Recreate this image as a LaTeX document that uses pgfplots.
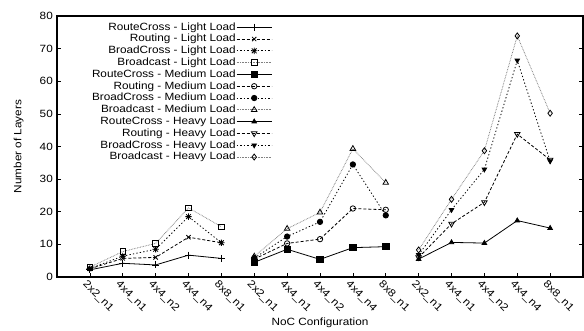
\documentclass[border=0pt]{standalone}
\usepackage{fontspec}
\setmainfont{Liberation Sans}[FakeStretch=1.12]
\usepackage{pgfplots}
\pgfplotsset{compat=1.18}
\pgfdeclareplotmark{gpstar}{%
  \pgfpathmoveto{\pgfqpoint{-\pgfplotmarksize}{0pt}}\pgfpathlineto{\pgfqpoint{\pgfplotmarksize}{0pt}}%
  \pgfpathmoveto{\pgfqpoint{0pt}{-\pgfplotmarksize}}\pgfpathlineto{\pgfqpoint{0pt}{\pgfplotmarksize}}%
  \pgfpathmoveto{\pgfqpoint{-0.75\pgfplotmarksize}{-0.75\pgfplotmarksize}}\pgfpathlineto{\pgfqpoint{0.75\pgfplotmarksize}{0.75\pgfplotmarksize}}%
  \pgfpathmoveto{\pgfqpoint{-0.75\pgfplotmarksize}{0.75\pgfplotmarksize}}\pgfpathlineto{\pgfqpoint{0.75\pgfplotmarksize}{-0.75\pgfplotmarksize}}%
  \pgfusepathqstroke}
\begin{document}
\begin{tikzpicture}[x=1bp,y=1bp]
\useasboundingbox (0,0) rectangle (584,330);
\begin{axis}[
  at={(57bp,53bp)}, anchor=south west,
  scale only axis, width=526bp, height=261bp,
  xmin=-1, xmax=15, ymin=0, ymax=80,
  xtick={0,...,14},
  xticklabels={2x2\_n1,4x4\_n1,4x4\_n2,4x4\_n4,8x8\_n1,2x2\_n1,4x4\_n1,4x4\_n2,4x4\_n4,8x8\_n1,2x2\_n1,4x4\_n1,4x4\_n2,4x4\_n4,8x8\_n1},
  ytick={0,10,...,80},
  xtick pos=bottom, ytick pos=both,
  tick align=inside, major tick length=4bp,
  tick style={line width=0.6bp, black},
  axis line style={line width=1.1bp},
  xticklabel style={rotate=-45, anchor=north west, inner sep=1bp, yshift=-2bp, xshift=-1bp},
  yticklabel style={inner sep=1bp, xshift=-3bp},
  font=\fontsize{10.5bp}{12.5bp}\selectfont,
  ticklabel style={font=\fontsize{10.5bp}{12.5bp}\selectfont},
  /pgf/number format/assume math mode=true,
  xlabel={NoC Configuration},
  ylabel={Number of Layers},
  xlabel style={at={(rel axis cs:0.5,0)}, anchor=base, yshift=-48bp},
  ylabel style={at={(rel axis cs:0,0.5)}, anchor=south, yshift=30bp},
  legend style={at={(rel axis cs:0.415,0.988)}, anchor=north east, draw=none, fill=none,
    font=\fontsize{10.5bp}{12bp}\selectfont, row sep=0pt,
    nodes={inner sep=0.5bp, text height=8.2bp, text depth=2.6bp}},
  legend cell align=right, legend plot pos=right,
  legend image code/.code={\draw[mark repeat=2,mark phase=2,#1] plot coordinates {(0bp,0bp) (17.5bp,0bp) (35bp,0bp)};},
  every axis plot/.append style={line width=0.8bp, black},
]
\pgfplotsset{
  rc/.style={solid},
  ro/.style={dash pattern=on 3bp off 2bp},
  bc/.style={dash pattern=on 1.3bp off 2.2bp},
  bd/.style={gray, dash pattern=on 0.7bp off 0.9bp, every mark/.append style={black}},
}
% Light load
\addplot[rc, mark=+, mark size=3.5bp] coordinates {(0,2.2) (1,4.2) (2,3.7) (3,6.7) (4,5.7)};
\addlegendentry{RouteCross - Light Load}
\addplot[ro, mark=x, mark size=3bp, mark options={solid}] coordinates {(0,2.5) (1,5.7) (2,6.0) (3,12.2) (4,10.5)};
\addlegendentry{Routing - Light Load}
\addplot[bc, mark=gpstar, mark size=3.2bp, mark options={solid}] coordinates {(0,2.6) (1,6.4) (2,8.5) (3,18.5) (4,10.5)};
\addlegendentry{BroadCross - Light Load}
\addplot[bd, mark=square, mark size=2.8bp, mark options={solid, black}] coordinates {(0,3.0) (1,7.8) (2,10.3) (3,21.2) (4,15.4)};
\addlegendentry{Broadcast - Light Load}
% Medium load
\addplot[rc, mark=square*, mark size=3.2bp] coordinates {(5,4.5) (6,8.5) (7,5.4) (8,9.0) (9,9.3)};
\addlegendentry{RouteCross - Medium Load}
\addplot[ro, mark=o, mark size=2.7bp, mark options={solid}] coordinates {(5,5.5) (6,10.3) (7,11.6) (8,21.0) (9,20.6)};
\addlegendentry{Routing - Medium Load}
\addplot[bc, mark=*, mark size=2.7bp, mark options={solid}] coordinates {(5,5.8) (6,12.4) (7,16.9) (8,34.5) (9,18.9)};
\addlegendentry{BroadCross - Medium Load}
\addplot[bd, mark=triangle, mark size=3.2bp, mark options={solid, black}] coordinates {(5,6.3) (6,14.8) (7,19.8) (8,39.3) (9,28.9)};
\addlegendentry{Broadcast - Medium Load}
% Heavy load
\addplot[rc, mark=triangle*, mark size=2.6bp] coordinates {(10,5.5) (11,10.6) (12,10.4) (13,17.3) (14,15.0)};
\addlegendentry{RouteCross - Heavy Load}
\addplot[ro, mark=triangle, mark size=3.2bp, mark options={solid, rotate=180}] coordinates {(10,6.0) (11,16.3) (12,22.9) (13,43.8) (14,35.9)};
\addlegendentry{Routing - Heavy Load}
\addplot[bc, mark=triangle*, mark size=2.6bp, mark options={solid, rotate=180}] coordinates {(10,6.8) (11,20.6) (12,33.0) (13,66.4) (14,35.5)};
\addlegendentry{BroadCross - Heavy Load}
\addplot[bd, mark=diamond, mark size=3bp, mark options={solid, black}] coordinates {(10,8.3) (11,23.8) (12,38.7) (13,73.9) (14,50.2)};
\addlegendentry{Broadcast - Heavy Load}
\end{axis}
\end{tikzpicture}
\end{document}
